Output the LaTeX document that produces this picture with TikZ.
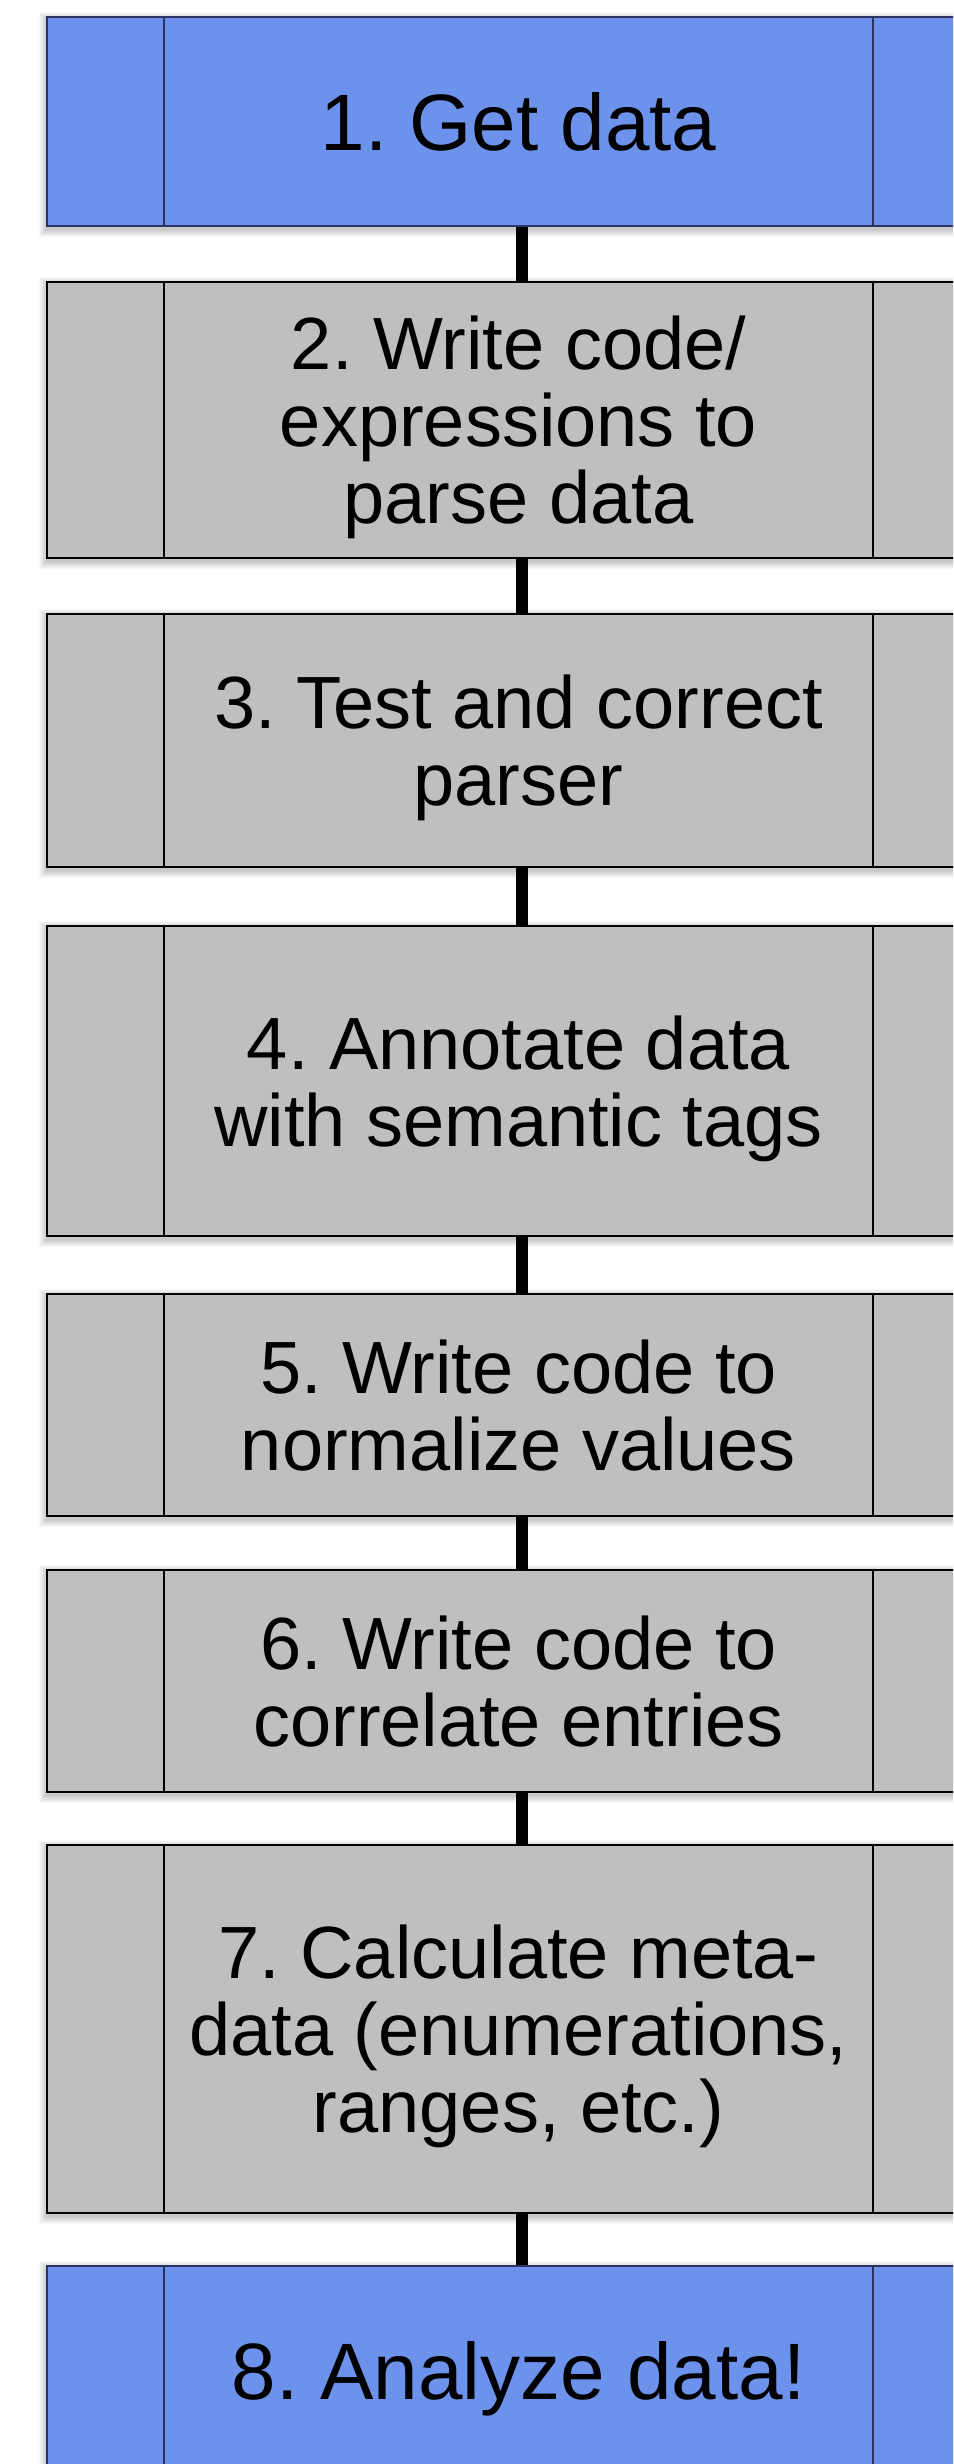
\documentclass[tikz,border=0pt]{standalone}
\usepackage{fontspec}
\setmainfont{Liberation Sans}
\frenchspacing
\definecolor{stageblue}{RGB}{109,146,236}
\definecolor{stageedge}{RGB}{44,50,98}
\definecolor{stagegrey}{RGB}{191,191,191}
% soft drop shadow under a rectangle given by its corners
\newcommand\castshadow[4]{%
  \foreach \r in {1,...,8}{%
    \fill[black, opacity=0.028] (#1-\r+1, #2-\r+4) rectangle (#3+\r+1, #4+\r+4);
  }%
}
\begin{document}
\begin{tikzpicture}[x=1pt, y=-1pt,
  stage/.style={line width=2pt, minimum width=943pt, inner sep=0pt, anchor=north west},
  bluestage/.style={stage, fill=stageblue, draw=stageedge},
  greystage/.style={stage, fill=stagegrey, draw=black},
  divider/.style={line width=1.8pt},
  steptext/.style={font=\fontsize{74}{77}\selectfont, align=center, text depth=0pt, inner sep=0pt},
  endtext/.style={steptext, font=\fontsize{80}{83}\selectfont},
  link/.style={line width=12pt, black}]
\useasboundingbox (0,0) rectangle (953,2464);
\clip (0,0) rectangle (953,2464);
\fill[white] (0,0) rectangle (953,2464);

% shadows
\castshadow{46}{16}{989}{225}
\castshadow{46}{281}{989}{557}
\castshadow{46}{613}{989}{866}
\castshadow{46}{925}{989}{1235}
\castshadow{46}{1293}{989}{1515}
\castshadow{46}{1569}{989}{1791}
\castshadow{46}{1844}{989}{2212}
\castshadow{46}{2265}{989}{2474}

% stage boxes
\node[bluestage, minimum height=209pt] (s1) at (46,16) {};
\node[greystage, minimum height=276pt] (s2) at (46,281) {};
\node[greystage, minimum height=253pt] (s3) at (46,613) {};
\node[greystage, minimum height=310pt] (s4) at (46,925) {};
\node[greystage, minimum height=222pt] (s5) at (46,1293) {};
\node[greystage, minimum height=222pt] (s6) at (46,1569) {};
\node[greystage, minimum height=368pt] (s7) at (46,1844) {};
\node[bluestage, minimum height=209pt] (s8) at (46,2265) {};

% column dividers inside each box
\foreach \s/\c in {s1/stageedge, s2/black, s3/black, s4/black, s5/black, s6/black, s7/black, s8/stageedge}{
  \draw[divider, draw=\c] ([xshift=118pt]\s.north west) -- ([xshift=118pt]\s.south west);
  \draw[divider, draw=\c] ([xshift=-118pt]\s.north east) -- ([xshift=-118pt]\s.south east);
}

% connectors
\foreach \a/\b in {s1/s2, s2/s3, s3/s4, s4/s5, s5/s6, s6/s7, s7/s8}{
  \draw[link] ([xshift=3pt]\a.south) -- ([xshift=3pt]\b.north);
}

% labels
\node[endtext] (t1) at (s1.center) {1. Get data};
\node[steptext] (t2) at (s2.center) {2. Write code/\\expressions to\\parse data};
\node[steptext] (t3) at (s3.center) {3. Test and correct\\parser};
\node[steptext] (t4) at (s4.center) {4. Annotate data\\with semantic tags};
\node[steptext] (t5) at (s5.center) {5. Write code to\\normalize values};
\node[steptext] (t6) at (s6.center) {6. Write code to\\correlate entries};
\node[steptext] (t7) at (s7.center) {7. Calculate meta-\\data (enumerations,\\ranges, etc.)};
\node[endtext] (t8) at (s8.center) {8. Analyze data!};
\end{tikzpicture}
\end{document}
